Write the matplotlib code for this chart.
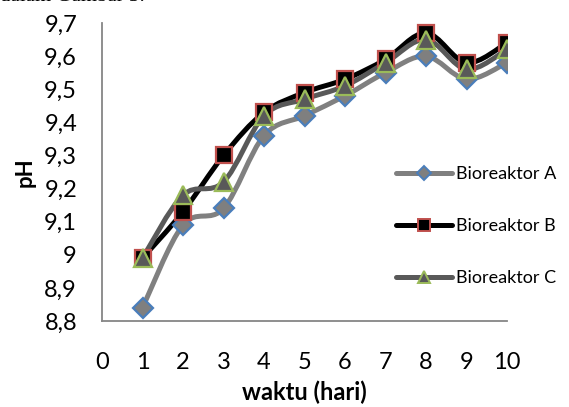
#!/usr/bin/env python3

import numpy as np
import matplotlib
matplotlib.use("Agg")
import matplotlib.pyplot as plt
from matplotlib.path import Path
from matplotlib.patches import PathPatch
from matplotlib.lines import Line2D
from matplotlib.ticker import MultipleLocator, FuncFormatter

# pH per hari untuk tiap bioreaktor
hari = [1, 2, 3, 4, 5, 6, 7, 8, 9, 10]
bio_a = [8.84, 9.09, 9.14, 9.36, 9.42, 9.48, 9.55, 9.60, 9.53, 9.58]
bio_b = [8.99, 9.13, 9.30, 9.43, 9.49, 9.53, 9.59, 9.67, 9.58, 9.64]
bio_c = [8.99, 9.18, 9.22, 9.42, 9.47, 9.51, 9.58, 9.65, 9.56, 9.62]
labels = ["Bioreaktor A", "Bioreaktor B", "Bioreaktor C"]


def smooth_path(x, y):
    # excel style smoothed line: catmull-rom turned into cubic beziers
    pts = np.column_stack([x, y]).astype(float)
    verts = [pts[0]]
    codes = [Path.MOVETO]
    n = len(pts)
    for i in range(n - 1):
        p0 = pts[max(i - 1, 0)]
        p1 = pts[i]
        p2 = pts[i + 1]
        p3 = pts[min(i + 2, n - 1)]
        verts += [p1 + (p2 - p0) / 6, p2 - (p3 - p1) / 6, p2]
        codes += [Path.CURVE4] * 3
    return Path(verts, codes)


def main():
    plt.rcParams['font.family'] = ['Lato', 'DejaVu Sans']

    fig = plt.figure(figsize=(5.69, 4.07), dpi=100)
    ax = fig.add_axes([102 / 569, 1 - 321 / 407, 405 / 569, 298 / 407])

    styles = [
        dict(line='#808080', marker='D', ms=10, face='#7f7f7f', edge='#4a7ebb'),
        dict(line='#000000', marker='s', ms=12, face='#000000', edge='#c0504d'),
        dict(line='#595959', marker='^', ms=13, face='#595959', edge='#9bbb59'),
    ]
    series = [bio_a, bio_b, bio_c]

    for vals, st in zip(series, styles):
        ax.add_patch(PathPatch(smooth_path(hari, vals), fill=False,
                               edgecolor=st['line'], lw=3.6,
                               capstyle='round', joinstyle='round', zorder=2))
    for vals, st in zip(series, styles):
        ax.plot(hari, vals, linestyle='none', marker=st['marker'], ms=st['ms'],
                markerfacecolor=st['face'], markeredgecolor=st['edge'],
                markeredgewidth=1.6, zorder=3)

    ax.set_xlim(0, 10)
    ax.set_ylim(8.8, 9.7)
    ax.xaxis.set_major_locator(MultipleLocator(1))
    ax.yaxis.set_major_locator(MultipleLocator(0.1))
    ax.yaxis.set_major_formatter(FuncFormatter(lambda v, p: f"{round(v, 1):g}".replace('.', ',')))

    for s in ['top', 'right']:
        ax.spines[s].set_visible(False)
    for s in ['left', 'bottom']:
        ax.spines[s].set_color('#868686')
        ax.spines[s].set_linewidth(1.3)
    ax.tick_params(axis='both', length=0, labelsize=17)
    ax.tick_params(axis='y', pad=18)
    ax.tick_params(axis='x', pad=22)

    ax.set_xlabel("waktu (hari)", fontsize=17, fontweight='bold', labelpad=6)
    ax.set_ylabel("pH", fontsize=16, fontweight='bold', labelpad=6)

    handles = [Line2D([], [], color=st['line'], lw=3.6, marker=st['marker'],
                      ms=st['ms'] * 0.7, markerfacecolor=st['face'],
                      markeredgecolor=st['edge'], markeredgewidth=1.4,
                      solid_capstyle='round')
               for st in styles]
    fig.legend(handles, labels, loc='center left',
               bbox_to_anchor=(396 / 569, 1 - 226 / 407),
               frameon=False, fontsize=13, handlelength=3.1,
               handletextpad=0.2, labelspacing=2.0, borderpad=0,
               borderaxespad=0)

    # potongan teks dokumen di atas gambar
    fig.text(0.0, 1 - 1 / 407, "dalam Gambar 3.", family='Liberation Serif',
             fontsize=15, va='baseline', ha='left')

    fig.savefig("out.png", dpi=100)


if __name__ == '__main__':
    main()
